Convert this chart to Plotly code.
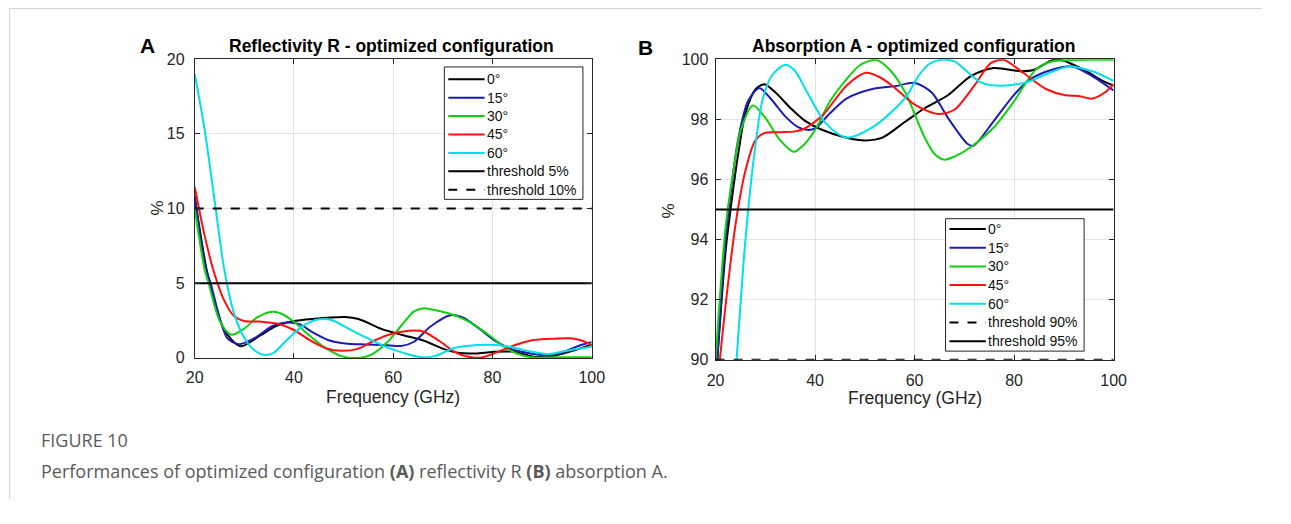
import plotly.graph_objects as go

# ---------------- data: Reflectivity R (%) ----------------
R0_x = [20, 22, 23, 25.9, 29.2, 33.2, 36.5, 39.8, 43.7, 50.3, 53, 57.6, 61.6, 66.2, 70.1, 73.4, 76.7, 80, 84, 88, 90.6, 94.5, 100]
R0_y = [10.75, 6.6, 5.0, 1.9, 0.78, 1.5, 2.15, 2.45, 2.6, 2.73, 2.6, 1.94, 1.55, 1.15, 0.6, 0.32, 0.3, 0.4, 0.42, 0.1, 0.04, 0.32, 0.88]

R15_x = [20, 22, 23.2, 26.6, 28.9, 31.9, 35.8, 38.5, 41.1, 43.7, 47, 50.3, 54.3, 58.3, 61.6, 64.2, 67.5, 71.5, 74.1, 77.4, 80.7, 84, 88, 91.2, 94.5, 97.8, 100]
R15_y = [10.86, 6.3, 5.0, 1.3, 0.92, 1.3, 2.15, 2.37, 2.26, 1.72, 1.18, 0.97, 0.9, 0.86, 0.8, 1.08, 2.1, 2.86, 2.69, 1.94, 1.1, 0.56, 0.28, 0.18, 0.43, 0.86, 1.05]

R30_x = [20, 22, 22.8, 25, 27.3, 29.9, 32.5, 35.2, 37.1, 39.8, 43.1, 46.4, 49.7, 53, 55.6, 58.9, 61.6, 64.2, 66.2, 69.5, 72.8, 76.1, 79.4, 82.7, 86, 89.3, 92.5, 100]
R30_y = [10.0, 5.9, 5.0, 2.5, 1.55, 1.94, 2.69, 3.08, 3.01, 2.47, 1.5, 0.65, 0.1, 0.0, 0.22, 1.08, 2.15, 3.12, 3.33, 3.12, 2.8, 2.26, 1.5, 0.65, 0.17, 0.0, 0.04, 0.04]

R45_x = [20, 22, 24, 25.9, 27.9, 29.9, 33.2, 36.5, 39.8, 43.1, 46.4, 49.7, 53, 56.3, 59.6, 64.2, 66.2, 69.5, 72.8, 76.1, 78, 81.3, 84.6, 87.9, 92.5, 95.8, 98.5, 100]
R45_y = [11.44, 8.17, 5.6, 3.87, 2.8, 2.47, 2.43, 2.3, 1.9, 1.2, 0.65, 0.47, 0.62, 1.18, 1.6, 1.84, 1.75, 1.08, 0.32, 0.02, 0.04, 0.43, 0.86, 1.18, 1.29, 1.31, 1.1, 0.8]

R60_x = [20, 22, 24, 25.9, 27.9, 29.9, 31.9, 33.9, 35.8, 38.5, 41.8, 45.1, 47.7, 51.7, 55, 58.9, 62.2, 66.2, 68.8, 72.1, 74.8, 79.4, 83.4, 87.4, 91.3, 95.3, 100]
R60_y = [19.03, 15.27, 10.54, 6.02, 3.0, 1.4, 0.54, 0.2, 0.32, 1.18, 2.15, 2.58, 2.52, 1.83, 1.29, 0.69, 0.32, 0.02, 0.17, 0.65, 0.8, 0.88, 0.75, 0.45, 0.26, 0.5, 0.75]

# ---------------- data: Absorption A (%) ----------------
A0_x = [20, 22, 23, 24.5, 26, 28, 29.8, 32, 35.1, 38, 41, 46.3, 50.2, 53.5, 58.1, 62, 66.7, 71.3, 75.9, 81.2, 84, 87.8, 89.8, 93.9, 97.8, 100]
A0_y = [89.2, 93.6, 95.0, 96.8, 98.2, 99.0, 99.17, 98.9, 98.37, 97.95, 97.68, 97.39, 97.3, 97.39, 97.92, 98.37, 98.8, 99.44, 99.71, 99.6, 99.65, 99.98, 99.96, 99.66, 99.28, 99.12]

A15_x = [20, 22, 23, 24.5, 26.5, 28.8, 31, 34, 36.5, 38.4, 40, 43, 46.3, 51.5, 56, 60.1, 63.4, 66.7, 70.6, 71.8, 75.9, 79.9, 83.2, 87.8, 91.7, 95.7, 100]
A15_y = [89.1, 94.0, 95.5, 97.3, 98.6, 99.04, 98.7, 98.1, 97.75, 97.65, 97.7, 98.2, 98.69, 99.01, 99.1, 99.21, 98.9, 98.05, 97.19, 97.12, 97.94, 98.8, 99.33, 99.66, 99.76, 99.44, 98.96]

A30_x = [20, 22, 23.5, 25, 27.5, 30, 33, 35.7, 38, 40.3, 43, 46.3, 49, 52.2, 55, 58.1, 62, 64, 66, 68.5, 71.3, 75.9, 79.9, 84.4, 87.8, 94.3, 100]
A30_y = [90.0, 94.4, 96.2, 97.6, 98.46, 98.05, 97.3, 96.92, 97.2, 97.73, 98.6, 99.33, 99.8, 99.98, 99.65, 98.9, 97.4, 96.85, 96.66, 96.8, 97.08, 97.73, 98.58, 99.66, 99.93, 99.98, 99.98]

A45_x = [20, 22, 24, 26, 28, 29.9, 33.1, 36, 37.7, 39.8, 41.7, 46.3, 50.2, 53, 55.5, 60.1, 64.7, 68, 72, 75.3, 77.9, 81.8, 86.4, 90.3, 93, 95.7, 98.3, 100]
A45_y = [88.6, 91.8, 94.5, 96.3, 97.3, 97.55, 97.57, 97.6, 97.68, 97.9, 98.16, 99.12, 99.55, 99.4, 99.12, 98.48, 98.18, 98.32, 99.12, 99.87, 99.98, 99.55, 99.01, 98.8, 98.78, 98.69, 98.9, 99.17]

A60_x = [20, 22, 24, 26, 27.9, 29.5, 31.5, 34.1, 36, 38.4, 42.3, 46.3, 51.5, 56.8, 58.5, 60.8, 63, 65.4, 68, 70.5, 73.3, 77.2, 82.5, 86.4, 91, 95.7, 100]
A60_y = [81.0, 84.7, 89.5, 94.0, 97.0, 98.69, 99.5, 99.82, 99.6, 98.9, 97.84, 97.39, 97.73, 98.48, 98.8, 99.45, 99.85, 99.98, 99.93, 99.6, 99.23, 99.12, 99.23, 99.5, 99.76, 99.6, 99.28]

ANGLE_LABELS = ["0°", "15°", "30°", "45°", "60°"]
THR_X = [20, 100]
R_THR_NAMES = ["threshold 5%", "threshold 10%"]
R_THR_VALUES = [5, 10]
A_THR_NAMES = ["threshold 90%", "threshold 95%"]
A_THR_VALUES = [90, 95]

X_TICKS = [20, 40, 60, 80, 100]
R_Y_TICKS = [0, 5, 10, 15, 20]
A_Y_TICKS = [90, 92, 94, 96, 98, 100]

COLORS = ["#000000", "#1c1cb4", "#10d010", "#ff1010", "#00e0e8"]
R_THR_DASH = ["solid", "dash"]
A_THR_DASH = ["dash", "solid"]

# The page body keeps an 8px default margin, so the figure is drawn 16px smaller
# and every position below is given in page pixels, shifted by that margin.
PAGE_W, PAGE_H = 1291, 524
OFF = 8
FW, FH = PAGE_W - 2 * OFF, PAGE_H - 2 * OFF
FONT = "Liberation Sans, Arial, sans-serif"
AX = "#262626"

fig = go.Figure()

R_series = [(R0_x, R0_y), (R15_x, R15_y), (R30_x, R30_y), (R45_x, R45_y), (R60_x, R60_y)]
A_series = [(A0_x, A0_y), (A15_x, A15_y), (A30_x, A30_y), (A45_x, A45_y), (A60_x, A60_y)]

for (xs, ys), name, c in zip(R_series, ANGLE_LABELS, COLORS):
    fig.add_trace(go.Scatter(x=xs, y=ys, name=name, mode="lines",
                             line=dict(color=c, width=2, shape="spline", smoothing=0.8),
                             xaxis="x", yaxis="y"))
for name, v, d in zip(R_THR_NAMES, R_THR_VALUES, R_THR_DASH):
    fig.add_trace(go.Scatter(x=THR_X, y=[v, v], name=name, mode="lines",
                             line=dict(color="black", width=2, dash=d), xaxis="x", yaxis="y"))

for (xs, ys), name, c in zip(A_series, ANGLE_LABELS, COLORS):
    fig.add_trace(go.Scatter(x=xs, y=ys, name=name, mode="lines",
                             line=dict(color=c, width=2, shape="spline", smoothing=0.8),
                             xaxis="x2", yaxis="y2"))
for name, v, d in zip(A_THR_NAMES, A_THR_VALUES, A_THR_DASH):
    fig.add_trace(go.Scatter(x=THR_X, y=[v, v], name=name, mode="lines",
                             line=dict(color="black", width=2, dash=d), xaxis="x2", yaxis="y2"))

def px_x(p):
    return (p - OFF) / FW

def px_y(p):
    return 1 - (p - OFF) / FH

axis_common = dict(showline=True, linecolor=AX, linewidth=1, mirror="allticks",
                   ticks="inside", ticklen=5, tickcolor=AX,
                   showgrid=True, gridcolor="#e3e3e3", gridwidth=1, zeroline=False,
                   tickfont=dict(family=FONT, size=16, color=AX))

fig.update_layout(
    width=FW, height=FH,
    margin=dict(l=0, r=0, t=0, b=0),
    paper_bgcolor="white", plot_bgcolor="white",
    showlegend=False,
    xaxis=dict(domain=[px_x(197), px_x(601)], range=[20, 100], tickvals=X_TICKS, anchor="y",
               ticklabelstandoff=5, **axis_common),
    yaxis=dict(domain=[px_y(370), px_y(61)], range=[0, 20], tickvals=R_Y_TICKS, anchor="x",
               ticklabelstandoff=6, **axis_common),
    xaxis2=dict(domain=[px_x(727), px_x(1132)], range=[20, 100], tickvals=X_TICKS, anchor="y2",
                ticklabelstandoff=6, **axis_common),
    yaxis2=dict(domain=[px_y(372), px_y(61)], range=[90, 100], tickvals=A_Y_TICKS, anchor="x2",
                ticklabelstandoff=3, **axis_common),
)

ann = []
shapes = []

def add_text(text, x, y, size, bold=False, angle=0, color="#000", family=FONT, xanchor="center"):
    ann.append(dict(text=f"<b>{text}</b>" if bold else text, x=px_x(x), y=px_y(y),
                    xref="paper", yref="paper", showarrow=False, textangle=angle,
                    xanchor=xanchor, yanchor="middle", borderpad=0,
                    font=dict(family=family, size=size, color=color)))

# MATLAB-style legends (box, line samples, labels)
def add_legend(box, row0, pitch, line_x0, line_x1, text_x, names, colors, dashes):
    x0, y0, x1, y1 = box
    shapes.append(dict(type="rect", xref="paper", yref="paper", layer="above",
                       x0=px_x(x0), x1=px_x(x1), y0=px_y(y1), y1=px_y(y0),
                       fillcolor="white", line=dict(color=AX, width=1)))
    for i, (n, c, d) in enumerate(zip(names, colors, dashes)):
        yy = row0 + i * pitch
        shapes.append(dict(type="line", xref="paper", yref="paper", layer="above",
                           x0=px_x(line_x0), x1=px_x(line_x1), y0=px_y(yy), y1=px_y(yy),
                           line=dict(color=c, width=2, dash=d)))
        add_text(n, text_x, yy, 14, color="#111", xanchor="left")

add_legend((451, 69, 592, 206), 81.7, 19.05, 455, 492, 493,
           ANGLE_LABELS + R_THR_NAMES, COLORS + ["black", "black"], ["solid"] * 5 + R_THR_DASH)
add_legend((961, 226, 1102, 363), 236.7, 19.33, 965, 1002, 1003,
           ANGLE_LABELS + A_THR_NAMES, COLORS + ["black", "black"], ["solid"] * 5 + A_THR_DASH)

add_text("Reflectivity R - optimized configuration", 397.5, 47, 17.5, bold=True)
add_text("Absorption A - optimized configuration", 928.5, 47, 17.5, bold=True)
add_text("A", 149, 47, 21, bold=True)
add_text("B", 656, 49, 21, bold=True)
add_text("%", 159, 215, 17, angle=-90, color=AX)
add_text("%", 680, 218, 17, angle=-90, color=AX)
add_text("Frequency (GHz)", 399, 410, 17.5, color=AX)
add_text("Frequency (GHz)", 930, 412, 17.5, color=AX)
add_text("FIGURE 10", 40, 455, 18, color="#5a5a5a", family="Open Sans, sans-serif", xanchor="left")
add_text("Performances of optimized configuration <b>(A)</b> reflectivity R <b>(B)</b> absorption A.",
         40, 487, 18, color="#5a5a5a", family="Open Sans, sans-serif", xanchor="left")

# thin frame at the top and left of the page (as close to the edge as possible)
shapes += [
    dict(type="line", xref="paper", yref="paper", x0=px_x(8.5), x1=1, y0=px_y(8.5), y1=px_y(8.5),
         line=dict(color="#d2d2d2", width=1)),
    dict(type="line", xref="paper", yref="paper", x0=px_x(8.5), x1=px_x(8.5), y0=0, y1=px_y(8.5),
         line=dict(color="#d2d2d2", width=1)),
]
fig.update_layout(annotations=ann, shapes=shapes)

fig.write_html("out.html")
